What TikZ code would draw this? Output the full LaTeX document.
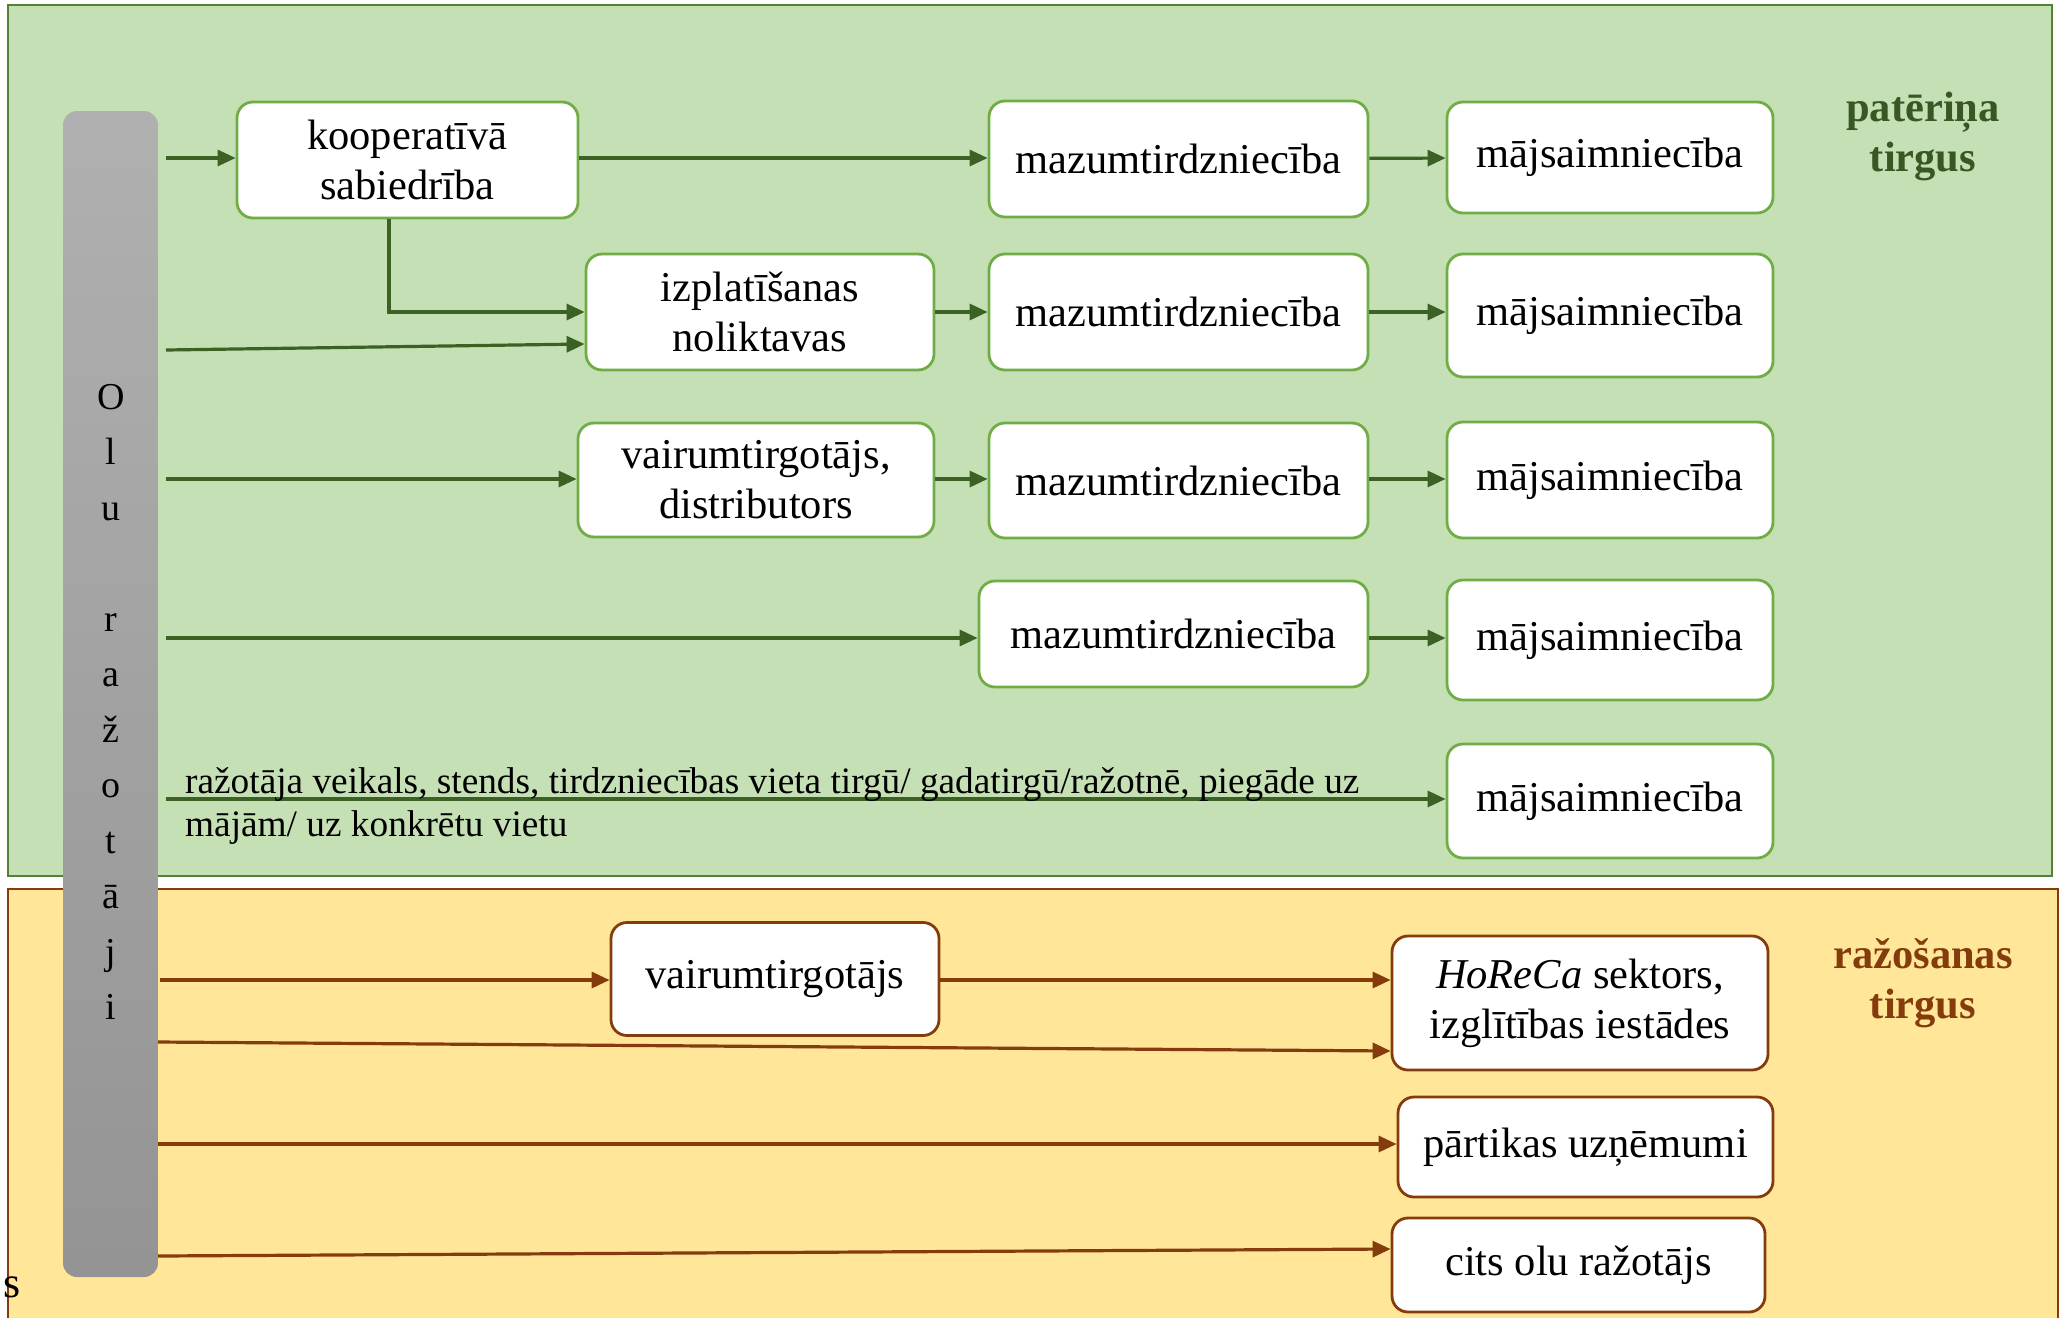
\documentclass[tikz,border=0pt]{standalone}
\usepackage{fontspec}
\setmainfont{Liberation Serif}
\usetikzlibrary{arrows.meta}
\definecolor{greenbg}{HTML}{C5E0B4}
\definecolor{greenline}{HTML}{548235}
\definecolor{greenbox}{HTML}{70AD47}
\definecolor{greenarrow}{HTML}{3B6125}
\definecolor{greentext}{HTML}{385723}
\definecolor{yellowbg}{HTML}{FFE699}
\definecolor{brownline}{HTML}{843C0C}
\newcommand\boxfont{\fontsize{42.5}{50}\selectfont}
\newcommand\labfont{\fontsize{37.3}{43}\selectfont}
\newcommand\barfont{\fontsize{38}{55.5}\selectfont}
\tikzset{>={Triangle[length=18pt,width=16pt]}}
\tikzset{
  gbox/.style={draw=greenbox, line width=2.8pt, fill=white, rounded corners=16pt,
    align=center, inner sep=0pt, font=\boxfont},
  brbox/.style={gbox, draw=brownline},
  wh/.style 2 args={minimum width=#1pt, minimum height=#2pt},
  garr/.style={->, greenarrow, line width=3.2pt},
  barr/.style={->, brownline, line width=3.2pt},
  market/.style={align=center, font=\boxfont\bfseries},
}

\begin{document}
\begin{tikzpicture}[x=1pt, y=-1pt]
  \clip (0,0) rectangle (2068,1317);

  % markets
  \draw[greenline, line width=2.6pt, fill=greenbg] (8,5) rectangle (2052,876);
  \draw[brownline, line width=2.6pt, fill=yellowbg] (8,889) rectangle (2058,1340);
  \node[anchor=base west, inner sep=0pt, font=\fontsize{44}{50}\selectfont] (stray) at (3,1297) {s};

  % producers
  \node[wh={95}{1166}, rounded corners=14pt, top color=black!31, bottom color=black!42,
    align=center, inner sep=0pt, font=\barfont] (olu) at (110.5,694) {};
  \node[align=center, inner sep=0pt, font=\barfont] (olutxt) at (111,702)
    {O\\l\\u\\[55.5pt]r\\a\\ž\\o\\t\\ā\\j\\i};

  % consumer market
  \node[gbox, wh={341}{116}] (koop) at (407.5,160) {kooperatīvā\\sabiedrība};
  \node[gbox, wh={379}{116}] (maz1) at (1178.5,159) {mazumtirdzniecība};
  \node[gbox, wh={326}{111}] (maj1) at (1610,157.5) {mājsaimniecība};
  \node[gbox, wh={348}{116}] (izpl) at (760,312) {izplatīšanas\\noliktavas};
  \node[gbox, wh={379}{116}] (maz2) at (1178.5,312) {mazumtirdzniecība};
  \node[gbox, wh={326}{123}] (maj2) at (1610,315.5) {mājsaimniecība};
  \node[gbox, wh={356}{114}] (vair) at (756,480) {vairumtirgotājs,\\distributors};
  \node[gbox, wh={379}{115}] (maz3) at (1178.5,480.5) {mazumtirdzniecība};
  \node[gbox, wh={326}{116}] (maj3) at (1610,480) {mājsaimniecība};
  \node[gbox, wh={389}{106}] (maz4) at (1173.5,634) {mazumtirdzniecība};
  \node[gbox, wh={326}{120}] (maj4) at (1610,640) {mājsaimniecība};
  \node[gbox, wh={326}{114}] (maj5) at (1610,801) {mājsaimniecība};
  \node[market, text=greentext] (pat) at (1923,136) {patēriņa\\tirgus};

  \coordinate (g1) at (166,158);
  \coordinate (g2) at (166,350);
  \coordinate (g3) at (166,479);
  \coordinate (g4) at (166,638);
  \coordinate (g5) at (166,799);

  \draw[garr] (g1) -- (g1 -| koop.west);
  \draw[garr] (koop.east |- g1) -- (g1 -| maz1.west);
  \draw[garr] (maz1) -- (maj1);
  \draw[garr] ([xshift=-18.5pt]koop.south) |- (izpl); %% koop -> izpl
  \draw[garr] (g2) -- ([yshift=-32pt]izpl.west);
  \draw[garr] (izpl) -- (maz2);
  \draw[garr] (maz2) -- (maz2.east -| maj2.west);
  \draw[garr] (g3) -- (g3 -| vair.west);
  \draw[garr] (vair.east |- g3) -- (g3 -| maz3.west);
  \draw[garr] (maz3.east |- g3) -- (g3 -| maj3.west);
  \draw[garr] (g4) -- (g4 -| maz4.west);
  \draw[garr] (maz4.east |- g4) -- (g4 -| maj4.west);
  \draw[garr] (g5) -- (g5 -| maj5.west);
  \node[anchor=base west, align=left, inner sep=0pt, font=\labfont] (direct) at (185,836)
    {ražotāja veikals, stends, tirdzniecības vieta tirgū/ gadatirgū/ražotnē, piegāde uz\\mājām/ uz konkrētu vietu};

  % production market
  \node[brbox, wh={328}{113}] (vairum) at (775,979) {vairumtirgotājs};
  \node[brbox, wh={376}{134}] (horeca) at (1580,1003) {\textit{HoReCa} sektors,\\izglītības iestādes};
  \node[brbox, wh={375}{100}] (partika) at (1585.5,1147) {pārtikas uzņēmumi};
  \node[brbox, wh={373}{94}] (cits) at (1578.5,1265) {cits olu ražotājs};
  \node[market, text=brownline] (raz) at (1923,983) {ražošanas\\tirgus};

  \coordinate (y1) at (160,980);
  \coordinate (y2) at (158,1042);
  \coordinate (y3) at (158,1144);
  \coordinate (y4) at (158,1256);

  \draw[barr] (y1) -- (y1 -| vairum.west);
  \draw[barr] (vairum.east |- y1) -- (y1 -| horeca.west);
  \draw[barr] (y2) -- ([yshift=-48pt]horeca.west);
  \draw[barr] (y3) -- (y3 -| partika.west);
  \draw[barr] (y4) -- ([yshift=16pt]cits.west);
\end{tikzpicture}
\end{document}
